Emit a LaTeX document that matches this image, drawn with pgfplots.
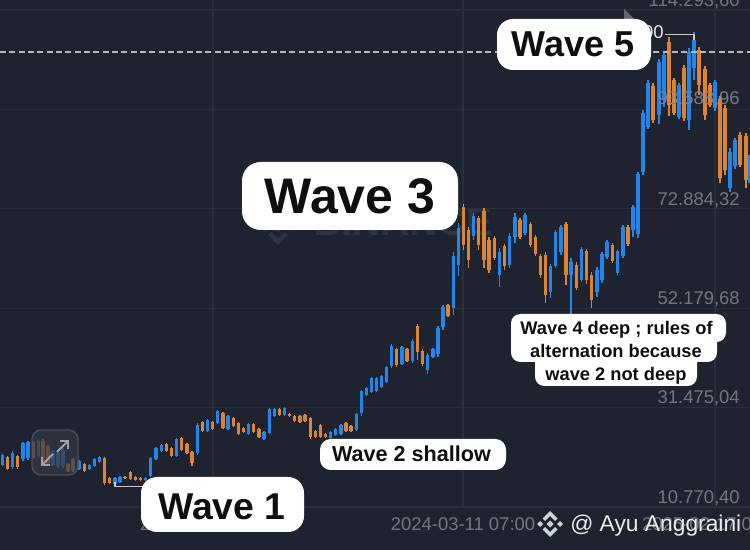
\documentclass[border=0pt]{standalone}
\usepackage{fontspec}
\setmainfont{Liberation Sans}
\usepackage{pgfplots}
\usepackage{pgfplotstable}
\pgfplotsset{compat=1.18}
\definecolor{pagebg}{RGB}{30,35,47}
\definecolor{gridc}{RGB}{41,46,58}
\definecolor{upc}{RGB}{36,133,232}
\definecolor{downc}{RGB}{221,132,52}
\definecolor{tickc}{RGB}{128,133,143}
\definecolor{wmark}{RGB}{45,51,63}
\definecolor{inkc}{RGB}{15,15,18}
\pgfdeclarelayer{page}
\pgfdeclarelayer{axis background}
\pgfdeclarelayer{axis grid}
\pgfdeclarelayer{axis ticks}
\pgfdeclarelayer{axis lines}
\pgfdeclarelayer{axis tick labels}
\pgfdeclarelayer{axis descriptions}
\pgfdeclarelayer{axis foreground}
\pgfsetlayers{page,axis background,axis grid,axis ticks,axis lines,main,axis tick labels,axis descriptions,axis foreground}
\pgfplotsset{layers/chartlayers/.define layer set={page,axis background,axis grid,axis ticks,axis lines,main,axis tick labels,axis descriptions,axis foreground}{
  grid style={/pgfplots/on layer=axis grid},
  tick style={/pgfplots/on layer=axis ticks},
  axis line style={/pgfplots/on layer=axis lines},
  label style={/pgfplots/on layer=axis descriptions},
  legend style={/pgfplots/on layer=axis foreground},
  title style={/pgfplots/on layer=axis descriptions},
  colorbar style={/pgfplots/on layer=axis descriptions},
  ticklabel style={/pgfplots/on layer=axis tick labels},
  axis background@ style={/pgfplots/on layer=axis background},
}}
% candles, read off the picture as image rows: high, body top, body bottom, low
\pgfplotstableread{
x hi top bot lo
2.3 454 455 465 466
12.7 451 453 467 469
23 442 443 459 461
28 441 442 458 460
38.5 439 441 456 458
53 450 451 465 466
58 452 453 466 468
63 448 450 466 468
79 460 461 469 470
89.3 464 465 469 470
94.3 458 459 466 467
99.3 456 457 462 463
115 477 478 484 486
120 476 477 482 483
145.7 477 478 480 481
150.7 457 458 476 477
156 447 448 459 460
161.3 444 445 451 452
176.7 438 439 456 457
197.3 423 425 453 455
207.3 419 420 431 432
217.7 410 411 423 424
228 415 416 429 430
248.7 423 424 434 435
264 431 432 439 440
269.3 408 409 433 434
274.3 408 409 416 417
284.7 407 408 415 416
330.7 431 432 438 439
335.7 428 429 435 436
341 424 425 434 435
356.3 413 414 430 431
361.3 390 391 413 416
366.7 387 388 395 396
371.7 377 378 392 393
376.3 377 378 391 392
381.7 375 376 387 388
386.7 366 367 382 383
391.7 344 346 366 368
402 346 347 364 365
412.3 339 341 361 363
427.7 353 355 370 374
433 348 349 357 358
438 326 328 354 357
443 305 307 327 330
453.3 252 256 308 315
458.3 223 228 265 276
473.7 213 216 236 240
499.7 248 252 275 287
509.7 233 236 265 268
515 213 217 237 243
525 213 215 233 235
550.7 264 266 292 298
555.7 230 232 266 268
561 225 227 252 255
571 258 262 275 315
581.3 247 249 280 282
597 267 270 292 297
602 252 254 280 283
607 240 242 257 259
617.3 249 251 273 275
623 225 227 256 258
633 205 207 230 237
638 172 174 234 238
643 110 113 172 175
648 80 83 127 129
659 59 62 115 124
664 52 55 100 107
679 83 85 117 119
689 48 52 120 130
694 32 40 68 80
715 80 82 108 111
730 148 152 188 192
735 138 140 166 169
749 155 157 178 183
}\upbars
\pgfplotstableread{
x hi top bot lo
7.3 456 457 469 470
17.7 455 456 467 469
33.5 441 442 458 459
43 439 441 461 463
48 445 446 464 465
68 463 464 471 472
73 458 459 470 472
84.3 463 464 471 472
104.7 457 458 483 485
109.7 477 478 483 484
125 476 477 478 479
130.3 471 472 479 480
135.3 476 477 480 481
140.3 477 478 480 481
166.3 443 444 451 452
171.7 447 448 456 457
181.7 437 438 450 451
187 443 444 453 454
192 451 452 463 466
202.3 421 422 431 432
212.7 421 422 429 430
223 412 413 428 429
233.3 417 418 426 427
238.3 422 423 434 435
243.3 427 428 432 433
253.7 423 424 432 433
259 428 429 437 438
279.3 408 409 415 416
289.7 413 414 416 417
294.7 415 416 421 422
300 415 416 422 423
305 414 415 421 422
310.3 417 418 437 439
315.3 430 431 437 438
320.3 424 425 437 438
325.7 433 434 437 438
346 422 423 431 432
351 425 426 431 432
396.7 348 349 365 367
407 348 349 361 362
417.3 324 326 352 360
422.3 349 351 364 366
448 304 305 316 317
463.3 204 207 245 250
468.3 227 230 260 268
478.7 216 218 245 250
484 208 211 260 268
489 237 240 270 273
494.3 236 238 258 260
504.7 244 246 266 270
520 218 220 237 239
530.3 222 224 245 247
535.3 235 237 254 256
540.3 254 256 275 278
545.7 252 255 295 303
566 222 224 275 285
576.3 262 265 288 290
586.3 249 251 280 284
591.7 272 275 300 308
612.3 243 245 261 263
628 225 227 244 246
653 83 86 120 123
669 37 42 105 116
674 78 80 113 115
684 65 68 118 121
699 47 50 85 95
705 66 69 115 120
710 83 85 105 107
720 96 99 178 183
725 105 108 170 175
740 132 135 165 167
746 133 136 180 188
}\downbars
\newcommand\rowprice[1]{(10770.4+(507-\thisrow{#1})*208.3)}
\tikzset{wb/.style={fill=white,draw=none,rounded corners=#1},
  px/.style={x=0.75pt,y=-0.75pt,shift={(0pt,412.5pt)}}}
\newcommand\binancelogo[1]{%
  \fill[#1] (0,-3.5)--(3.5,0)--(0,3.5)--(-3.5,0)--cycle;
  \fill[#1] (-10,-3)--(-7,0)--(-10,3)--(-13,0)--cycle;
  \fill[#1] (10,-3)--(13,0)--(10,3)--(7,0)--cycle;
  \fill[#1] (0,-13)--(7.5,-5.5)--(5,-3)--(0,-8)--(-5,-3)--(-7.5,-5.5)--cycle;
  \fill[#1] (0,13)--(7.5,5.5)--(5,3)--(0,8)--(-5,3)--(-7.5,5.5)--cycle;
}
\begin{document}
\begin{tikzpicture}
\begin{pgfonlayer}{page}
\begin{scope}[px]
  \fill[pagebg] (0,0) rectangle (750,550);
  \begin{scope}[shift={(278,228)},scale=1.3]\binancelogo{wmark}\end{scope}
  \node[anchor=base west,inner sep=0,text=wmark,font=\fontsize{29.5}{32}\selectfont\bfseries] at (313,236) {BINANCE};
\end{scope}
\end{pgfonlayer}
\begin{axis}[
  set layers=chartlayers,
  at={(0pt,32.25pt)},anchor=south west,
  scale only axis,width=562.5pt,height=380.25pt,
  xmin=0,xmax=750,ymin=10770.4,ymax=116378.5,
  clip mode=individual,
  axis line style={draw=none},
  major tick length=0pt,
  xmajorgrids,ymajorgrids,
  major grid style={draw=gridc,line width=0.8pt},
  xtick={213,463,715},
  xticklabels={{2023-04-03 07:00},{2024-03-11 07:00},{2025-02-17 07:00}},
  ytick={10770.4,31475.04,52179.68,72884.32,93588.96,114293.6},
  yticklabels={{10.770,40},{31.475,04},{52.179,68},{72.884,32},{},{114.293,60}},
  yticklabel pos=right,
  ticklabel style={text=tickc,text opacity=0.85,inner sep=0pt,font=\fontsize{13.85}{16}\selectfont},
  yticklabel style={anchor=base east,xshift=-7.5pt,yshift=2.8pt},
  xticklabel style={anchor=north,yshift=-8pt},
]
% wicks and bodies, rising candles
\addplot[no marks,draw=none,forget plot,error bars/.cd,y dir=plus,y explicit,error mark=none,
  error bar style={color=upc,line width=0.9pt}]
  table[x=x,y expr={\rowprice{lo}},y error plus expr={(\thisrow{lo}-\thisrow{hi})*208.3}] {\upbars};
\addplot[no marks,draw=none,forget plot,error bars/.cd,y dir=plus,y explicit,error mark=none,
  error bar style={color=upc,line width=2.5pt}]
  table[x=x,y expr={\rowprice{bot}},y error plus expr={(\thisrow{bot}-\thisrow{top})*208.3}] {\upbars};
% wicks and bodies, falling candles
\addplot[no marks,draw=none,forget plot,error bars/.cd,y dir=plus,y explicit,error mark=none,
  error bar style={color=downc,line width=0.9pt}]
  table[x=x,y expr={\rowprice{lo}},y error plus expr={(\thisrow{lo}-\thisrow{hi})*208.3}] {\downbars};
\addplot[no marks,draw=none,forget plot,error bars/.cd,y dir=plus,y explicit,error mark=none,
  error bar style={color=downc,line width=2.5pt}]
  table[x=x,y expr={\rowprice{bot}},y error plus expr={(\thisrow{bot}-\thisrow{top})*208.3}] {\downbars};
% current price
\addplot[no marks,forget plot,draw=white!68!pagebg,line width=0.85pt,dash pattern=on 4.5pt off 2.5pt]
  coordinates {(0,105547)(750,105547)};
% highest and lowest price markers
\addplot[no marks,forget plot,draw=white!75!pagebg,line width=0.8pt]
  coordinates {(665,109165)(694,109165)(694,108100)};
\addplot[no marks,forget plot,draw=white!75!pagebg,line width=0.8pt]
  coordinates {(115,15980)(115,14960)(145,14960)};
\end{axis}
\begin{pgfonlayer}{axis foreground}
\begin{scope}[px]
  % the one price label that lies over the candles
  \node[anchor=base east,inner sep=0,text=tickc,text opacity=0.9,font=\fontsize{13.85}{16}\selectfont] at (740,104.3) {93.588,96};
  % current-price flag
  \fill[gray!75!pagebg] (624,9)--(635,20)--(624,20)--cycle;
  \node[anchor=base east,inner sep=0,text=white!92!black,font=\fontsize{13.85}{16}\selectfont] at (664,39) {109.588,00};
  % zoom icon
  \draw[draw=white!20!pagebg,line width=1pt,fill=pagebg!90!white,fill opacity=0.72,rounded corners=7pt] (32,430) rectangle (78,475);
  \begin{scope}[draw=white!58!pagebg,line width=1.5pt]
    \draw (42,465)--(53,454); \draw (42,457)--(42,465)--(50,465);
    \draw (57,452)--(68,441); \draw (60,441)--(68,441)--(68,449);
  \end{scope}
  % labels
  \fill[wb=14pt] (242,162) rectangle (458,230);
  \node[anchor=base,inner sep=0,text=inkc,font=\fontsize{37.5}{40}\selectfont\bfseries] at (350,214) {Wave 3};
  \fill[wb=12pt] (497,19) rectangle (651,70);
  \node[anchor=base,inner sep=0,text=inkc,font=\fontsize{27}{30}\selectfont\bfseries] at (573,57) {Wave 5};
  \fill[wb=12pt] (141,477) rectangle (304,532);
  \node[anchor=base,inner sep=0,text=inkc,font=\fontsize{28}{30}\selectfont\bfseries] at (222,519) {Wave 1};
  \fill[wb=8pt] (320,439) rectangle (506,470);
  \node[anchor=base,inner sep=0,text=inkc,font=\fontsize{16.2}{18}\selectfont\bfseries] at (411.5,462) {Wave 2 shallow};
  \fill[wb=7pt] (511,314) rectangle (726,342);
  \fill[wb=7pt] (511,322) rectangle (717,362);
  \fill[wb=7pt] (535,345) rectangle (697,386);
  \node[anchor=base,inner sep=0,text=inkc,font=\fontsize{13.7}{16}\selectfont\bfseries] at (616.5,335) {Wave 4 deep ; rules of};
  \node[anchor=base,inner sep=0,text=inkc,font=\fontsize{13.7}{16}\selectfont\bfseries] at (616,358) {alternation because};
  \node[anchor=base,inner sep=0,text=inkc,font=\fontsize{13.7}{16}\selectfont\bfseries] at (616,381) {wave 2 not deep};
  % watermark
  \begin{scope}[shift={(550,524)}]\binancelogo{white!82!black}\end{scope}
  \node[anchor=base west,inner sep=0,text=white!92!black,font=\fontsize{17.1}{20}\selectfont] at (570,532) {@ Ayu Anggraini};
\end{scope}
\end{pgfonlayer}
\pgfresetboundingbox
\path[use as bounding box] (0pt,0pt) rectangle (562.5pt,412.5pt);
\end{tikzpicture}
\end{document}
